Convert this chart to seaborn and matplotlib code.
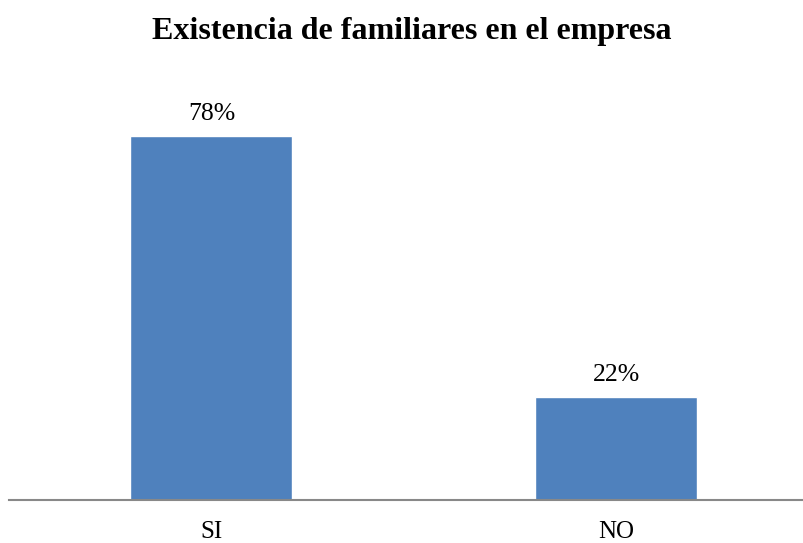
import matplotlib
matplotlib.use("Agg")
import matplotlib.pyplot as plt
import seaborn as sns
import pandas as pd

categories = ["SI", "NO"]
percentages = [78, 22]
title = "Existencia de familiares en el empresa"

sns.set_theme(style="white")
plt.rcParams["font.family"] = ["Liberation Serif", "DejaVu Serif"]

df = pd.DataFrame({"categoria": categories, "porcentaje": percentages})

fig = plt.figure(figsize=(8.04, 5.43), dpi=100)
ax = fig.add_axes([9 / 804, 43 / 543, 810 / 804, 420 / 543])

sns.barplot(data=df, x="categoria", y="porcentaje", color="#4F81BD",
            saturation=1, width=0.4, ax=ax)

ax.set_xlim(-0.5, 1.5)
ax.set_ylim(0, 90)

# value labels above each bar
for i, v in enumerate(percentages):
    ax.annotate(f"{v}%", (i, v), xytext=(0, 11.5), textcoords="offset points",
                ha="center", va="baseline", fontsize=18.5, color="black")

for side in ["top", "right", "left"]:
    ax.spines[side].set_visible(False)
ax.spines["bottom"].set_color("#888888")
ax.spines["bottom"].set_linewidth(1.5)
ax.set_yticks([])
ax.set_xlabel("")
ax.set_ylabel("")
ax.tick_params(axis="x", length=0, pad=15, labelsize=18, colors="black")

fig.text(412 / 804, 1 - 39 / 543, title, ha="center", va="baseline",
         fontsize=23, fontweight="bold", color="black")

fig.savefig("out.png", dpi=100)
